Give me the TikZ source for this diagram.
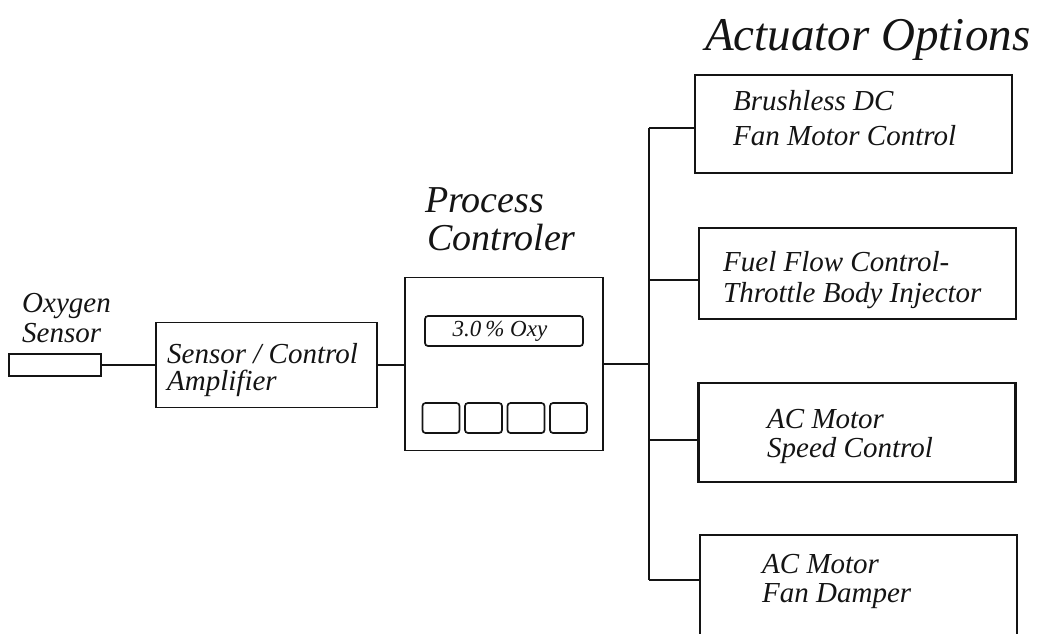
\documentclass[tikz,border=0pt]{standalone}
\usepackage{fontspec}
\setmainfont{Liberation Serif}
\usepackage{xcolor}
\usetikzlibrary{positioning}
\definecolor{ink}{HTML}{141414}
\definecolor{paper}{HTML}{FFFFFF}
\newcommand{\sz}[2]{\fontsize{#1}{#2}\selectfont\itshape}

\begin{document}
\begin{tikzpicture}[x=1pt,y=-1pt,
  thinbox/.style={draw=ink,line width=1.2pt,inner sep=0pt},
  actbox/.style={draw=ink,line width=2.8pt,inner sep=0pt,minimum width=317pt},
  key/.style={draw=ink,line width=1.7pt,rounded corners=3pt,inner sep=0pt,
    minimum width=37pt,minimum height=30pt},
  wire/.style={ink,line width=2.6pt},
  txt/.style={anchor=base west,align=left,inner sep=0pt,text=ink}]
  \useasboundingbox (0,0) rectangle (1038,633);
  \clip (0,0) rectangle (1038,633);

  % sensor side
  \node[thinbox,minimum width=92pt,minimum height=22pt] (osens) at (55,365) {};
  \node[txt,font=\sz{29}{30}] (osenslbl) at (22,342) {Oxygen\\Sensor};
  \node[thinbox,minimum width=221pt,minimum height=85pt] (amp) at (266.5,365) {};
  \node[txt,font=\sz{29}{27}] (amplbl) at (167,390) {Sensor / Control\\Amplifier};

  % process controller
  \node[thinbox,minimum width=198pt,minimum height=173pt] (pc) at (504,364) {};
  \node[txt,font=\sz{38}{38}] (pclbl) at (425,250) {Process\\\hspace*{2pt}Controler};
  \node[key,minimum width=158pt] (disp) at (504,331) {};
  \node[font=\sz{23}{24},text=ink,inner sep=0pt] (disptxt) at (500,331) {3.0\,\% Oxy};
  \foreach \k/\kx in {1/441,2/483.5,3/526,4/568.5}
    \node[key] (btn\k) at (\kx,418) {};

  % actuator options
  \node[txt,font=\sz{47}{48}] (actlbl) at (705,50) {Actuator Options};
  \foreach \n/\cx/\cy/\h/\by/\tx/\ty/\ls/\lines in {
    1/853.5/124/98/128/733/145/35/{Brushless DC\\Fan Motor Control},
    2/857.5/273.5/91/280/723/302/31/{Fuel Flow Control-\\Throttle Body Injector},
    3/857/432.5/99/440/767/457/29/{AC Motor\\Speed Control},
    4/858.5/588/106/580/762/602/29/{AC Motor\\Fan Damper}}
  {
    \node[actbox,minimum height=\h pt] (act\n) at (\cx,\cy) {};
    \node[txt,font=\sz{29}{\ls}] (act\n lbl) at (\tx,\ty) {\lines};
    \coordinate (tap\n) at (649,\by);
  }

  % wiring
  \draw[wire] (osens.east) -- (osens.east -| amp.west);
  \draw[wire] (amp.east) -- (amp.east -| pc.west);
  \draw[wire] (pc.east) -- (pc.east -| tap1);
  \draw[wire] (tap1) -- (tap4);
  \foreach \n in {1,...,4}
    \draw[wire] (tap\n) -- (tap\n -| act\n.west);
\end{tikzpicture}
\end{document}
